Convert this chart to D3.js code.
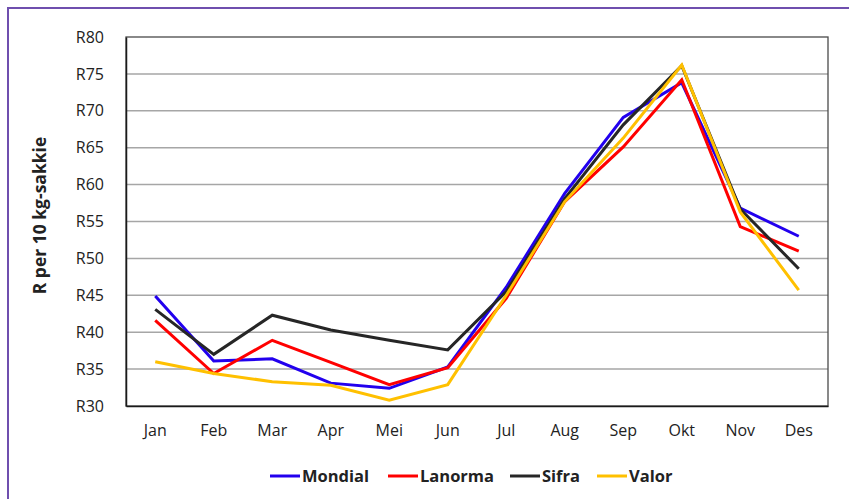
<!DOCTYPE html>
<html>
<head>
<meta charset="utf-8">
<script src="https://cdn.jsdelivr.net/npm/d3@7"></script>
<style>
  body { margin: 0; background: #fff; }
  svg { display: block; font-family: "Open Sans", sans-serif; }
</style>
</head>
<body>
<div id="chart"></div>
<script>
// months (Afrikaans)
var months = ["Jan", "Feb", "Mar", "Apr", "Mei", "Jun", "Jul", "Aug", "Sep", "Okt", "Nov", "Des"];
var yTicks = [30, 35, 40, 45, 50, 55, 60, 65, 70, 75, 80];

var mondial = [44.9, 36.1, 36.4, 33.1, 32.4, 35.3, 46.1, 58.8, 69.1, 73.8, 56.8, 53.0];
var lanorma = [41.6, 34.4, 38.9, 35.9, 32.9, 35.2, 44.6, 57.7, 65.1, 74.2, 54.3, 51.0];
var sifra   = [43.1, 37.0, 42.3, 40.3, 38.9, 37.6, 45.5, 58.1, 68.1, 76.1, 56.7, 48.6];
var valor   = [36.0, 34.4, 33.3, 32.8, 30.8, 32.9, 45.0, 57.7, 66.3, 76.2, 56.3, 45.7];

var seriesNames = ["Mondial", "Lanorma", "Sifra", "Valor"];
var seriesColors = ["#2200ee", "#ff0000", "#262626", "#ffc000"];
var allSeries = [mondial, lanorma, sifra, valor];

var W = 849, H = 499;
var margin = {top: 37, right: 21, bottom: 93, left: 126},
    width = W - margin.left - margin.right,
    height = H - margin.top - margin.bottom;

var root = d3.select("#chart").append("svg")
    .attr("width", W)
    .attr("height", H);

// purple frame
root.append("path")
    .attr("d", "M8,499 L8,8 L849,8")
    .attr("fill", "none")
    .attr("stroke", "#6f4fae")
    .attr("stroke-width", 2);

var svg = root.append("g")
    .attr("transform", "translate(" + margin.left + "," + margin.top + ")");

var x = d3.scaleBand()
    .domain(months)
    .range([0, width]);

var y = d3.scaleLinear()
    .domain([30, 80])
    .range([height, 0]);

// gridlines
svg.append("g")
    .selectAll("line")
    .data(yTicks.slice(1, -1))
    .enter()
    .append("line")
    .attr("x1", 0)
    .attr("x2", width)
    .attr("y1", d => y(d))
    .attr("y2", d => y(d))
    .attr("stroke", "#a6a6a6")
    .attr("stroke-width", 1.5);

// plot border
svg.append("rect")
    .attr("x", 0).attr("y", 0)
    .attr("width", width).attr("height", height)
    .attr("fill", "none")
    .attr("stroke", "#4a4a4a")
    .attr("stroke-width", 1.3);

// Y axis
var yAxis = svg.append("g")
    .call(d3.axisLeft(y).tickValues(yTicks).tickSize(0).tickPadding(22)
        .tickFormat(d => "R" + d));
yAxis.select(".domain").attr("stroke", "#1a1a1a").attr("stroke-width", 1.5);
yAxis.selectAll("text")
    .style("font-size", "16px")
    .style("font-family", "'Open Sans', sans-serif")
    .attr("fill", "#222");

// X axis
var xAxis = svg.append("g")
    .attr("transform", "translate(0," + height + ")")
    .call(d3.axisBottom(x).tickSize(0).tickPadding(19));
xAxis.select(".domain").attr("stroke", "#1a1a1a").attr("stroke-width", 1.5);
xAxis.selectAll("text")
    .style("font-size", "16px")
    .style("font-family", "'Open Sans', sans-serif")
    .attr("fill", "#222");

// y label
root.append("text")
    .attr("transform", "translate(46," + (margin.top + height / 2 - 6) + ") rotate(-90)")
    .attr("text-anchor", "middle")
    .style("font-size", "17.5px")
    .style("font-weight", "bold")
    .attr("fill", "#222")
    .text("R per 10 kg-sakkie");

// lines
var line = d3.line()
    .x((d, i) => x(months[i]) + x.bandwidth() / 2)
    .y(d => y(d));

svg.selectAll(".series")
    .data(allSeries)
    .enter()
    .append("path")
    .attr("d", d => line(d))
    .attr("fill", "none")
    .attr("stroke", (d, i) => seriesColors[i])
    .attr("stroke-width", 3)
    .attr("stroke-linejoin", "miter");

// legend
var legendX = [270, 388, 510, 597];
var legend = root.append("g");
seriesNames.forEach(function(name, i) {
    legend.append("line")
        .attr("x1", legendX[i]).attr("x2", legendX[i] + 30)
        .attr("y1", 476).attr("y2", 476)
        .attr("stroke", seriesColors[i])
        .attr("stroke-width", 3);
    legend.append("text")
        .attr("x", legendX[i] + 32)
        .attr("y", 482)
        .style("font-size", "16.5px")
        .style("font-weight", "bold")
        .attr("fill", "#222")
        .text(name);
});
</script>
</body>
</html>
